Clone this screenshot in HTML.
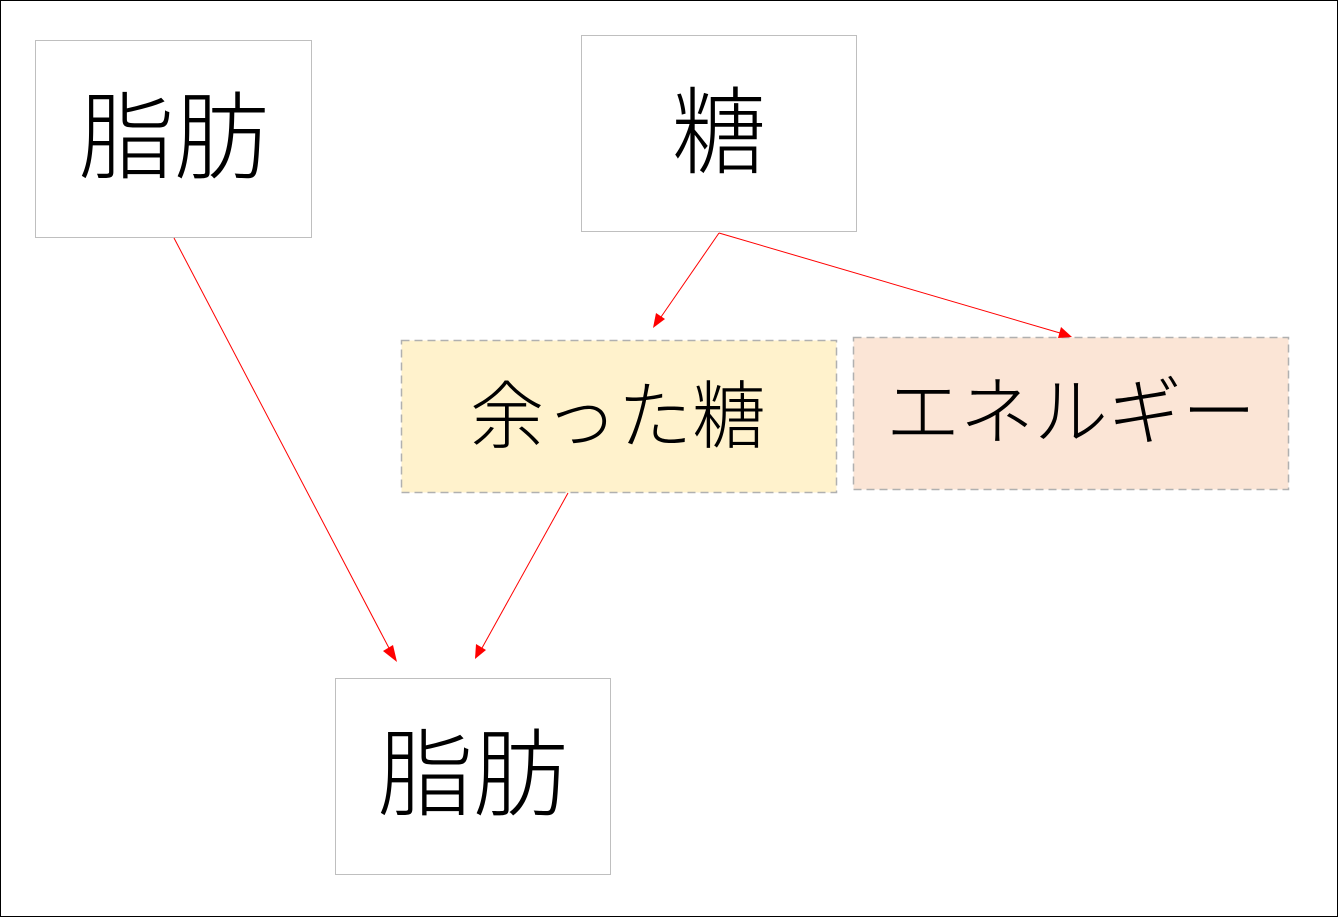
<!DOCTYPE html>
<html><head><meta charset="utf-8"><style>
html,body{margin:0;padding:0;background:#fff}
svg{display:block}
text{font-family:"Liberation Sans","Noto Sans CJK JP",sans-serif;fill:#000;font-weight:300}
</style></head><body>
<svg width="1338" height="917" viewBox="0 0 1338 917" xmlns="http://www.w3.org/2000/svg">
<rect x="0.5" y="0.5" width="1337" height="916" fill="#fff" stroke="#000"/>
<rect x="35.5" y="40.5" width="276" height="197" fill="#fff" stroke="#bfbfbf"/>
<text x="174" y="171" font-size="95" text-anchor="middle">脂肪</text>
<rect x="581.5" y="35.5" width="275" height="196" fill="#fff" stroke="#bfbfbf"/>
<text x="719" y="166" font-size="95" text-anchor="middle">糖</text>
<rect x="401.5" y="340.5" width="435" height="152" fill="#fff2cc" stroke="#b0b0b0" stroke-width="1.5" stroke-dasharray="8,5"/>
<text x="618" y="442" font-size="74" text-anchor="middle">余った糖</text>
<rect x="853.5" y="337.5" width="435" height="152" fill="#fbe5d6" stroke="#b0b0b0" stroke-width="1.5" stroke-dasharray="8,5"/>
<text x="1071" y="438" font-size="74" text-anchor="middle">エネルギー</text>
<rect x="335.5" y="678.5" width="275" height="196" fill="#fff" stroke="#bfbfbf"/>
<text x="473" y="808" font-size="95" text-anchor="middle">脂肪</text>
<g stroke="#f00" stroke-width="1" fill="none">
<line x1="174" y1="238" x2="390" y2="650"/>
<line x1="568" y1="493" x2="482" y2="648"/>
<line x1="719" y1="233" x2="661" y2="317"/>
<line x1="719" y1="233" x2="1060" y2="333"/>
</g>
<g fill="#f00">
<polygon points="397,662 383,651 393,645"/>
<polygon points="475,659 476,644 486,650"/>
<polygon points="653,328 656,313 665,319"/>
<polygon points="1072,337 1058,338 1061,327"/>
</g>
</svg>
</body></html>
